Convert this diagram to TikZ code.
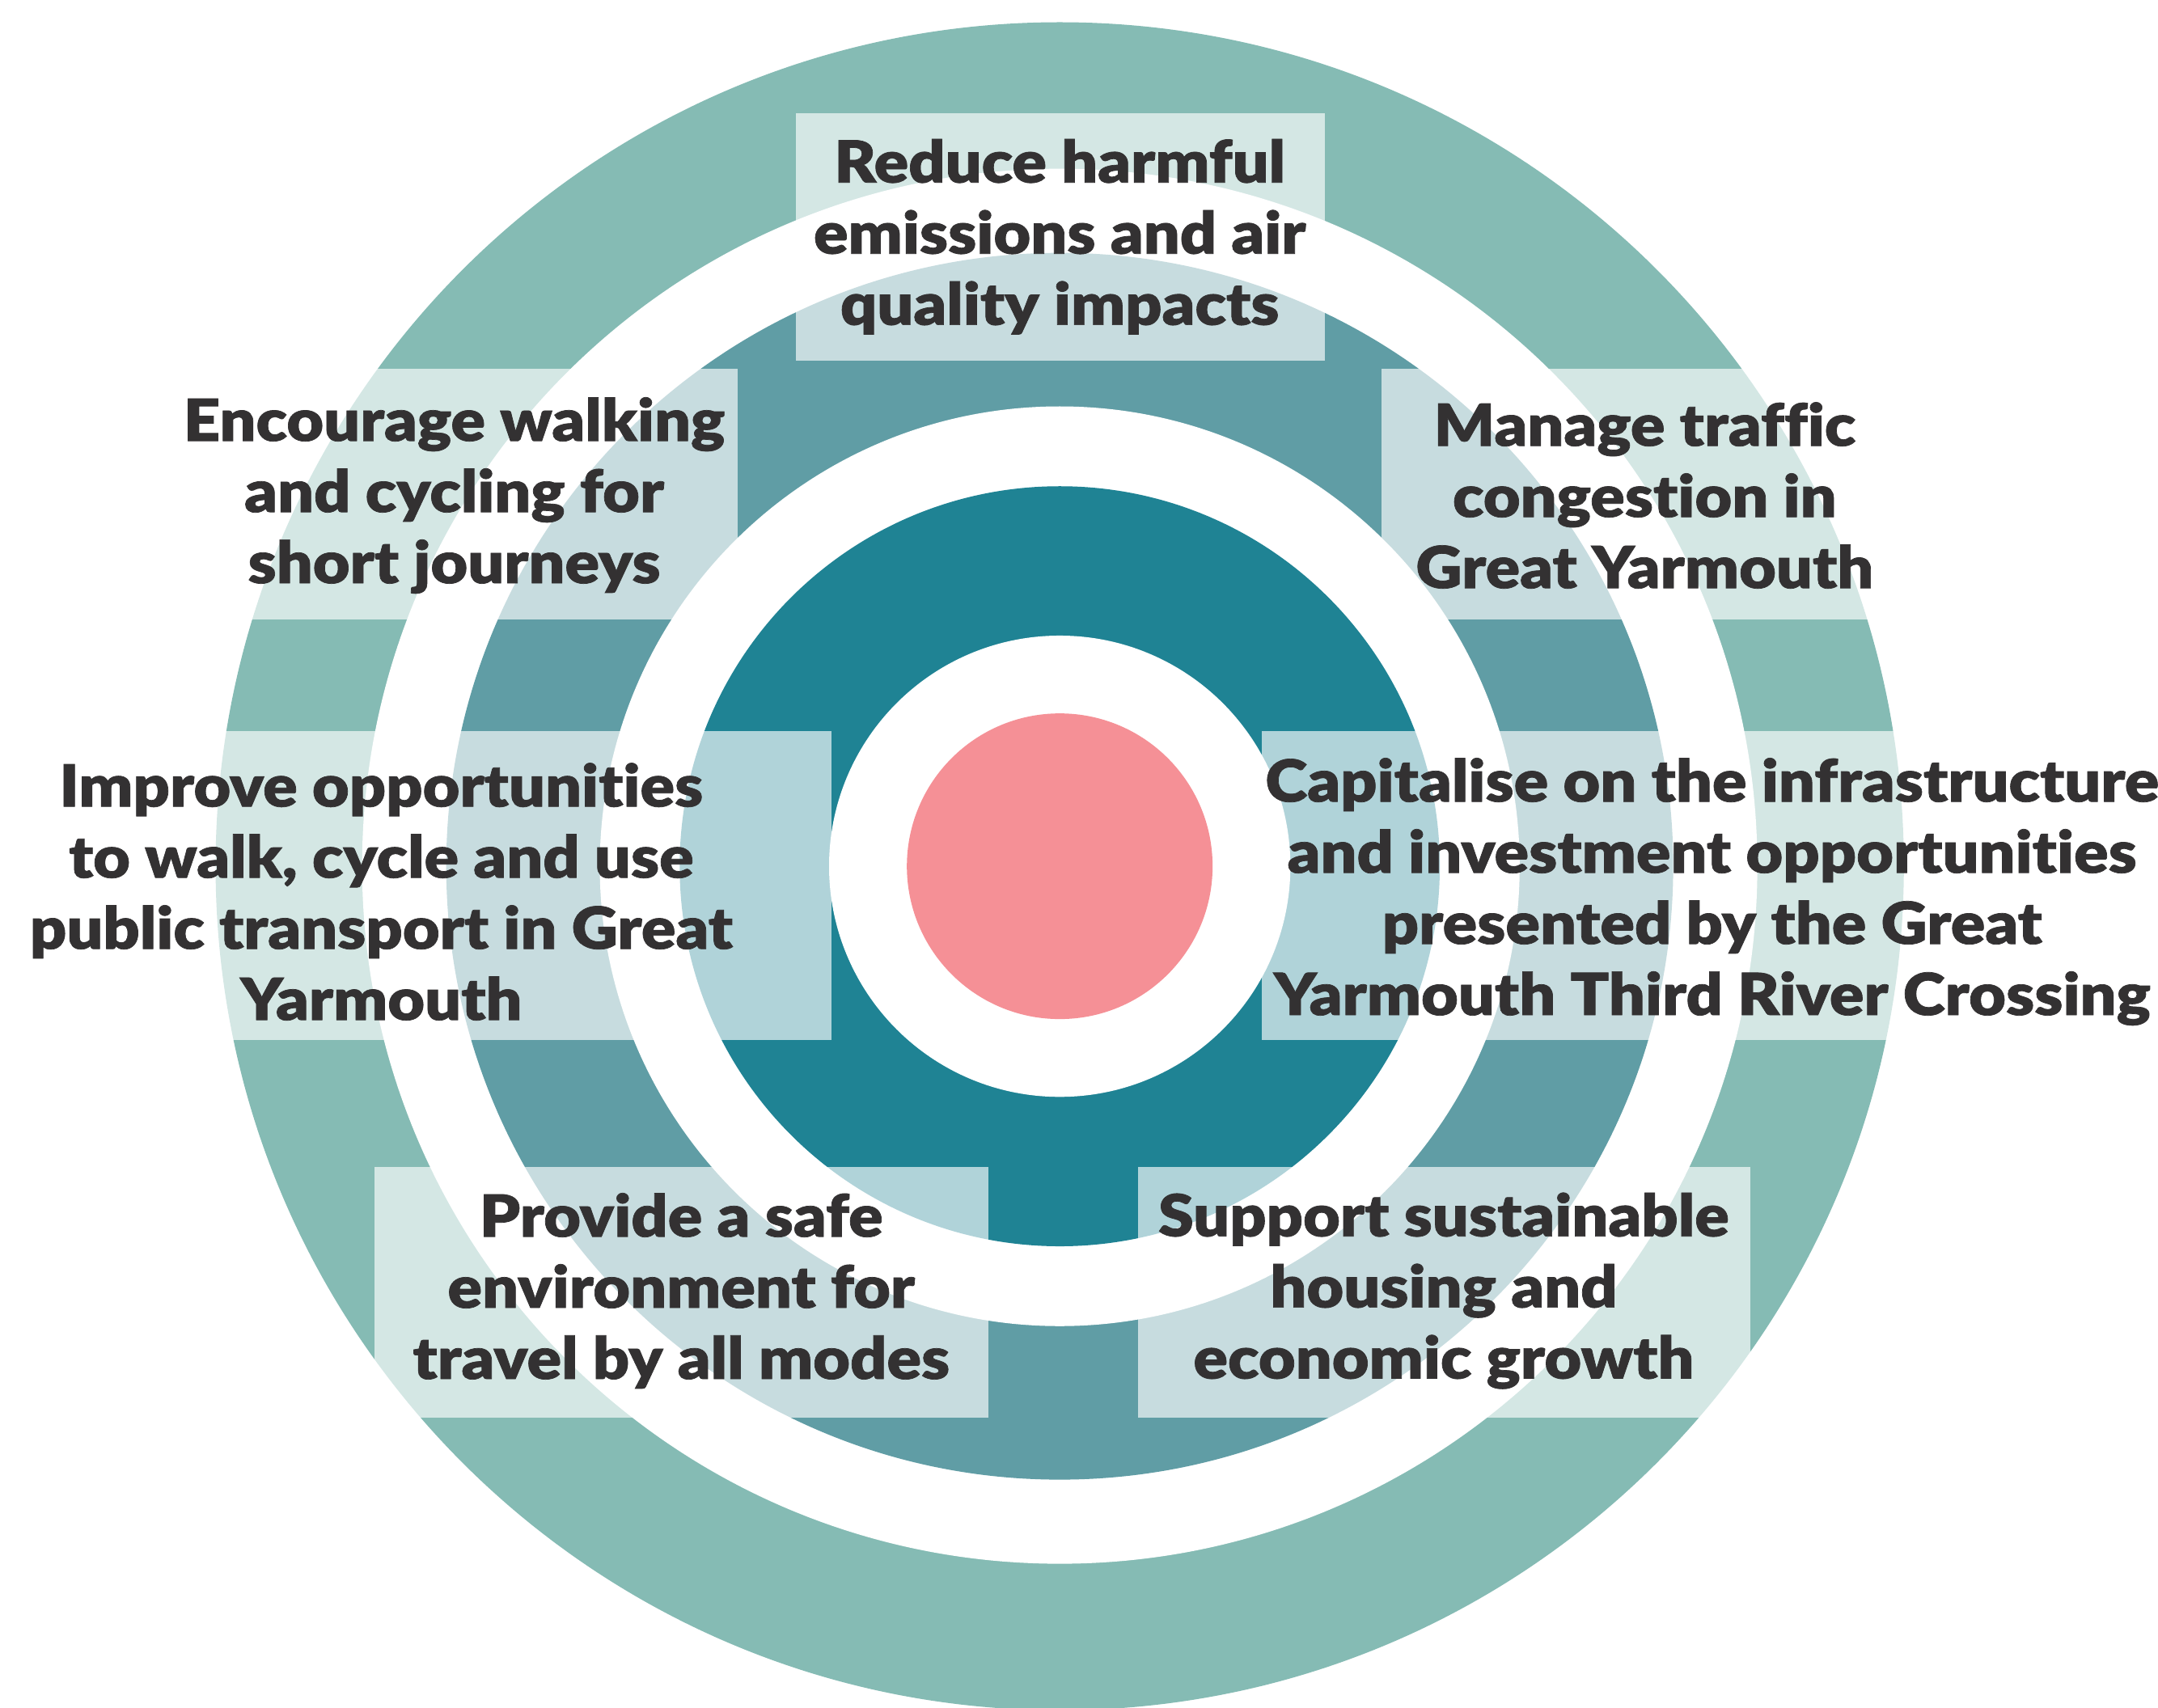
\documentclass[tikz,border=0pt]{standalone}
\usepackage{fontspec}
\newfontfamily\goalfont[FakeStretch=1.1,FakeBold=1,Ligatures=NoCommon]{Lato Black}
\definecolor{ringouter}{HTML}{85BBB4}
\definecolor{ringmid}{HTML}{609DA5}
\definecolor{ringinner}{HTML}{1F8394}
\definecolor{core}{HTML}{F59096}
\definecolor{goaltext}{HTML}{333132}

\begin{document}
\begin{tikzpicture}[x=0.01cm,y=-0.01cm]
  \tikzstyle{panel}=[fill=white,fill opacity=0.65]
  \tikzstyle{goal}=[align=center,text=goaltext,inner sep=0pt,
                    font=\goalfont\fontsize{12}{14.7}\selectfont]
  \useasboundingbox (0,0) rectangle (1568,1241);
  \coordinate (c) at (770,629.5);
  \fill[ringouter] (c) circle[radius=6.13cm];
  \fill[white] (c) circle[radius=5.066cm];
  \fill[ringmid] (c) circle[radius=4.455cm];
  \fill[white] (c) circle[radius=3.34cm];
  \fill[ringinner] (c) circle[radius=2.76cm];
  \fill[white] (c) circle[radius=1.675cm];
  \fill[core] (c) circle[radius=1.11cm];
  \fill[panel] (578.5,82) rectangle (962.5,262);
  \fill[panel] (100,268) rectangle (536,450);
  \fill[panel] (1004,268) rectangle (1440,450);
  \fill[panel] (0,531) rectangle (604,756);
  \fill[panel] (917,531) rectangle (1568,756);
  \fill[panel] (272,848) rectangle (718,1030);
  \fill[panel] (827,848) rectangle (1272,1030);
  \node[goal] (reduce) at (770,172) {Reduce harmful\\emissions and air\\quality impacts};
  \node[goal] (encourage) at (330,360) {Encourage walking\\and cycling for\\short journeys};
  \node[goal] (manage) at (1195,360) {Manage traffic\\congestion in\\Great Yarmouth};
  \node[goal] (improve) at (277,648) {Improve opportunities\\to walk, cycle and use\\public transport in Great\\Yarmouth};
  \node[goal] (capitalise) at (1244,648) {Capitalise on the infrastructure\\and investment opportunities\\presented by the Great\\Yarmouth Third River Crossing};
  \node[goal] (provide) at (495,938) {Provide a safe\\environment for\\travel by all modes};
  \node[goal] (support) at (1049,938) {Support sustainable\\housing and\\economic growth};
\end{tikzpicture}
\end{document}
